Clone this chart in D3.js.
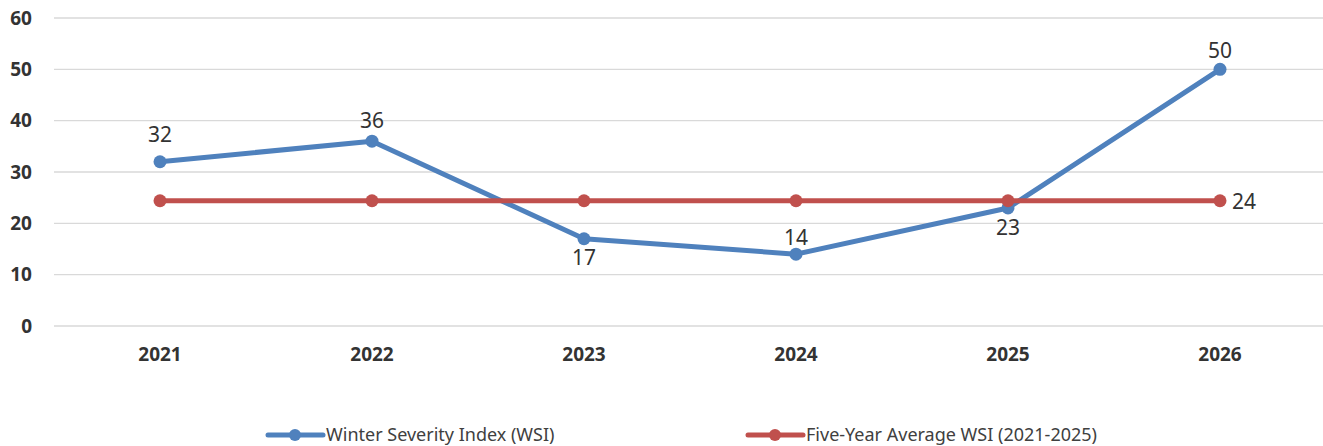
<!DOCTYPE html>
<html>
<head>
<meta charset="utf-8">
<script src="https://cdn.jsdelivr.net/npm/d3@7"></script>
<style>
  body { margin: 0; background: #fff; }
  svg { font-family: "Noto Sans", "Open Sans", sans-serif; }
</style>
</head>
<body>
<div id="chart"></div>
<script>
const years = ['2021', '2022', '2023', '2024', '2025', '2026'];
const wsiValues = [32, 36, 17, 14, 23, 50];
const avgValues = [24.4, 24.4, 24.4, 24.4, 24.4, 24.4];
const yTicks = [0, 10, 20, 30, 40, 50, 60];
const seriesNames = ['Winter Severity Index (WSI)', 'Five-Year Average WSI (2021-2025)'];

// label baseline offsets from each WSI point (layout only)
const wsiLabelDy = [-20, -13, 26, -9, 27, -11];

const WIDTH = 1323, HEIGHT = 446;
const MARGIN = { top: 18, right: 0, bottom: 120, left: 54 };
const BLUE = '#4F81BD', RED = '#C0504D';

let svg = d3.select('#chart')
  .append('svg')
  .attr('width', WIDTH)
  .attr('height', HEIGHT);

const xScale = d3.scaleBand()
  .domain(years)
  .range([MARGIN.left, 1326]);

const yScale = d3.scaleLinear()
  .domain([0, 60])
  .range([HEIGHT - MARGIN.bottom, MARGIN.top]);

const cx = d => xScale(d) + xScale.bandwidth() / 2;

// gridlines
svg.append('g')
  .selectAll('line')
  .data(yTicks)
  .join('line')
  .attr('x1', MARGIN.left)
  .attr('x2', WIDTH)
  .attr('y1', d => yScale(d))
  .attr('y2', d => yScale(d))
  .attr('stroke', '#d9d9d9')
  .attr('stroke-width', 1.3);

// y axis labels
let yAxis = svg.append('g')
  .attr('transform', `translate(${MARGIN.left - 22},0)`)
  .call(d3.axisLeft(yScale).tickValues(yTicks).tickSize(0).tickPadding(0));
yAxis.select('.domain').remove();
yAxis.selectAll('text')
  .attr('font-size', 19)
  .attr('font-weight', 'bold')
  .attr('fill', '#333')
  .attr('font-family', '"Noto Sans", sans-serif');

// x axis labels
let xAxis = svg.append('g')
  .attr('transform', `translate(0,${yScale(0)})`)
  .call(d3.axisBottom(xScale).tickSize(0).tickPadding(22));
xAxis.select('.domain').remove();
xAxis.selectAll('text')
  .attr('font-size', 19)
  .attr('font-weight', 'bold')
  .attr('fill', '#333')
  .attr('font-family', '"Noto Sans", sans-serif');

const line = d3.line()
  .x(d => cx(d.year))
  .y(d => yScale(d.value));

function drawSeries(values, color) {
  const pts = years.map((y, i) => ({ year: y, value: values[i] }));
  svg.append('path')
    .datum(pts)
    .attr('d', line)
    .attr('fill', 'none')
    .attr('stroke', color)
    .attr('stroke-width', 5)
    .attr('stroke-linejoin', 'round');
  svg.append('g')
    .selectAll('circle')
    .data(pts)
    .join('circle')
    .attr('cx', d => cx(d.year))
    .attr('cy', d => yScale(d.value))
    .attr('r', 6.5)
    .attr('fill', color);
  return pts;
}

const wsiPts = drawSeries(wsiValues, BLUE);
const avgPts = drawSeries(avgValues, RED);

// data labels
svg.append('g')
  .selectAll('text')
  .data(wsiPts)
  .join('text')
  .attr('x', d => cx(d.year))
  .attr('y', (d, i) => yScale(d.value) + wsiLabelDy[i])
  .attr('text-anchor', 'middle')
  .attr('font-size', 21)
  .attr('fill', '#333')
  .text(d => d.value);

const lastAvg = avgPts[avgPts.length - 1];
svg.append('text')
  .attr('x', cx(lastAvg.year) + 12)
  .attr('y', yScale(lastAvg.value) + 8)
  .attr('font-size', 21)
  .attr('fill', '#333')
  .text(Math.round(lastAvg.value));

// legend
const legendX = [268, 748];
const legendY = 435;
let legend = svg.append('g')
  .selectAll('g')
  .data(seriesNames)
  .join('g')
  .attr('transform', (d, i) => `translate(${legendX[i]},${legendY})`);
legend.append('line')
  .attr('x1', 0).attr('x2', 55)
  .attr('stroke', (d, i) => i ? RED : BLUE)
  .attr('stroke-width', 5)
  .attr('stroke-linecap', 'round');
legend.append('circle')
  .attr('cx', 27).attr('r', 6)
  .attr('fill', (d, i) => i ? RED : BLUE);
legend.append('text')
  .attr('x', 58)
  .attr('y', 6)
  .attr('font-size', 18)
  .attr('fill', '#404040')
  .text(d => d);
</script>
</body>
</html>
